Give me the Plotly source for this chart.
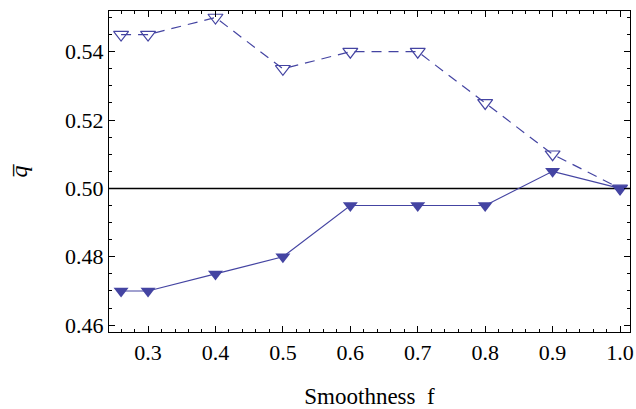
import plotly.graph_objects as go

smoothness = [0.26, 0.3, 0.4, 0.5, 0.6, 0.7, 0.8, 0.9, 1.0]
q_upper = [0.545, 0.545, 0.55, 0.535, 0.54, 0.54, 0.525, 0.51, 0.50]
q_lower = [0.47, 0.47, 0.475, 0.48, 0.495, 0.495, 0.495, 0.505, 0.50]
reference_q = 0.50
x_ticks = [0.3, 0.4, 0.5, 0.6, 0.7, 0.8, 0.9, 1.0]
y_ticks = [0.46, 0.48, 0.50, 0.52, 0.54]

serif = "Times New Roman, Liberation Serif, serif"
col = "#4444a2"
fig = go.Figure()
fig.add_hline(y=reference_q, line=dict(color="black", width=1.5), layer="below")
fig.add_trace(go.Scatter(
    x=smoothness, y=q_upper, mode="lines+markers",
    line=dict(color=col, width=1.2, dash="10px,7px"),
    marker=dict(symbol="triangle-down-open", size=13, color=col, line=dict(width=1.2, color=col)),
    showlegend=False))
fig.add_trace(go.Scatter(
    x=smoothness, y=q_lower, mode="lines+markers",
    line=dict(color=col, width=1.2),
    marker=dict(symbol="triangle-down", size=13, color=col),
    showlegend=False))

axis_common = dict(
    showline=True, linecolor="black", linewidth=1.2, mirror="ticks",
    ticks="inside", ticklen=6, tickwidth=1, tickcolor="black",
    showgrid=False, zeroline=False, automargin=False,
    tickfont=dict(family=serif, size=22, color="black"),
)
fig.update_xaxes(
    range=[0.2421, 1.0148], tickvals=x_ticks, tickformat=".1f",
    minor=dict(ticks="inside", ticklen=3, dtick=0.02, tick0=0.0, tickcolor="black"),
    title=dict(text="Smoothness  f", font=dict(family=serif, size=23, color="black"), standoff=26),
    **axis_common)
fig.update_yaxes(
    range=[0.458, 0.5519], tickvals=y_ticks, tickformat=".2f",
    minor=dict(ticks="inside", ticklen=3, dtick=0.005, tick0=0.0, tickcolor="black"),
    title=dict(text="<i>q\u0305</i>", font=dict(family=serif, size=24, color="black"), standoff=30),
    **axis_common)
fig.update_layout(
    width=636, height=409,
    margin=dict(l=109, r=6, t=11, b=77),
    plot_bgcolor="white", paper_bgcolor="white",
    font=dict(family=serif),
)
fig.write_html("out.html", config={"displayModeBar": False},
               post_script="document.body.style.margin='0';")
